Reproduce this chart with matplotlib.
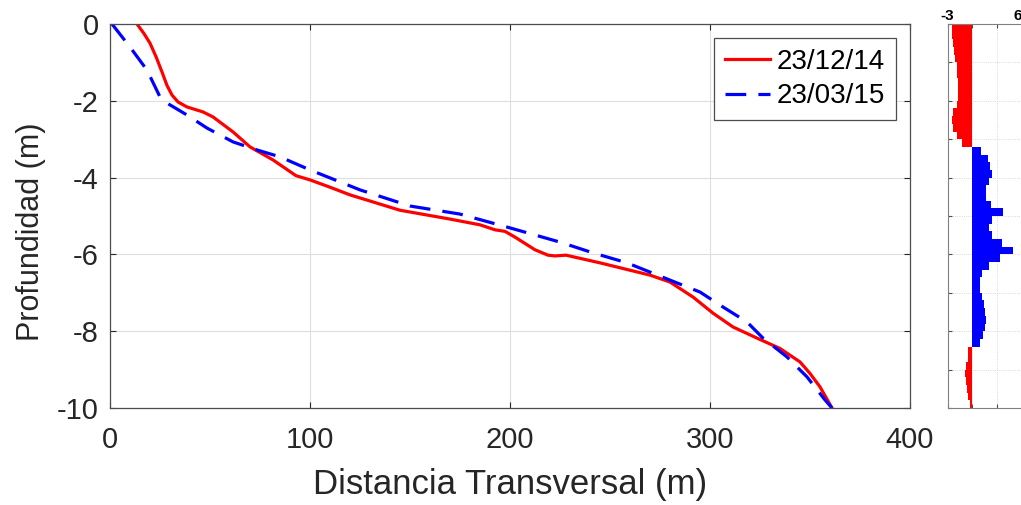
import numpy as np
import matplotlib
matplotlib.use('Agg')
from matplotlib import pyplot as plt

plt.rcParams['font.family'] = ['Liberation Sans', 'DejaVu Sans']

# profile 23/12/14
distRed = [13.5, 17, 20, 23, 26, 28.5, 31, 34, 38.5, 46.5, 51.5, 61.5, 70, 81.5, 93, 100, 110, 120,
           145, 170, 185, 192.5, 197.5, 202.5, 212.5, 219, 222.5, 228, 245, 270, 280, 291.5, 301.5,
           311.5, 323.5, 335, 345, 350, 355, 361]
depthRed = [0, -0.25, -0.5, -0.85, -1.25, -1.6, -1.85, -2.03, -2.16, -2.29, -2.42, -2.81, -3.20,
            -3.54, -3.95, -4.06, -4.25, -4.45, -4.85, -5.08, -5.23, -5.36, -5.40, -5.55, -5.88, -6.02,
            -6.04, -6.02, -6.22, -6.54, -6.72, -7.11, -7.53, -7.89, -8.18, -8.45, -8.8, -9.1, -9.45,
            -10]

# profile 23/03/15
distBlue = [1, 10, 18.5, 25, 28.5, 38.5, 48.5, 61.5, 73.5, 85, 100, 125, 150, 175, 200, 225, 241.5,
            258.5, 280, 295, 306.5, 318.5, 326.5, 338.5, 348.5, 357.5, 361]
depthBlue = [0, -0.6, -1.2, -1.9, -2.06, -2.37, -2.71, -3.07, -3.28, -3.46, -3.8, -4.32, -4.74,
             -4.95, -5.31, -5.68, -5.96, -6.22, -6.67, -6.98, -7.37, -7.76, -8.18, -8.67, -9.19,
             -9.79, -10]

# depth change histogram (0.2 m bins from surface)
binDepth = [-0.1 - 0.2 * i for i in range(50)]
change = [-2.5, -2.45, -2.35, -2.2, -2.05, -1.9, -1.8, -1.7, -1.67, -1.7,
          -1.85, -2.3, -2.45, -2.3, -1.9, -1.2, 1.04, 1.9, 2.19, 2.43,
          2.1, 1.71, 1.63, 2.31, 3.77, 2.38, 2.1, 2.38, 3.62, 4.96,
          3.38, 2.02, 1.24, 0.92, 0.9, 1.15, 1.4, 1.6, 1.7, 1.5,
          1.3, 0.95, -0.45, -0.55, -0.75, -0.87, -0.8, -0.65, -0.45, -0.3]

dark = (0.15, 0.15, 0.15)

fig = plt.figure(figsize=(10.21, 5.05), dpi=100)
ax = fig.add_axes([110 / 1021, 97 / 505, 800 / 1021, 384 / 505])

ax.plot(distRed, depthRed, color=(1, 0, 0), lw=2.3, label='23/12/14')
ax.plot(distBlue, depthBlue, color=(0, 0, 1), lw=2.3, dashes=(6.5, 3.8), label='23/03/15')

ax.set_xlim(0, 400)
ax.set_ylim(-10, 0)
ax.set_xticks([0, 100, 200, 300, 400])
ax.set_yticks([0, -2, -4, -6, -8, -10])
ax.set_yticklabels(['0', '-2', '-4', '-6', '-8', '-10'])
ax.grid(True, color=(0.87, 0.87, 0.87), lw=0.8)
ax.tick_params(direction='in', labelsize=21, colors=dark, length=4, top=True, right=True)
ax.tick_params(axis='x', pad=13)
ax.tick_params(axis='y', pad=8)
for s in ax.spines.values():
    s.set_color((0.3, 0.3, 0.3))
    s.set_linewidth(0.9)
ax.set_xlabel('Distancia Transversal (m)', fontsize=25, color=dark, labelpad=10)
ax.set_ylabel('Profundidad (m)', fontsize=22, color=dark)
ax.yaxis.set_label_coords(-0.08, 0.46)

leg = ax.legend(loc='upper right', fontsize=20, handlelength=1.6, handletextpad=0.25,
                borderpad=0.4, labelspacing=0.3, fancybox=False, framealpha=1,
                borderaxespad=0.5)
leg.get_frame().set_edgecolor((0.3, 0.3, 0.3))
leg.get_frame().set_linewidth(0.9)

# side panel with the depth change
ax2 = fig.add_axes([947.5 / 1021, 97 / 505, 74 / 1021, 384 / 505])
colors = [(1, 0, 0) if v < 0 else (0, 0, 1) for v in change]
ax2.barh(binDepth, change, height=0.2, color=colors, linewidth=0)
ax2.set_xlim(-3, 6)
ax2.set_ylim(-10, 0)
ax2.set_xticks([-3, 0, 3, 6])
ax2.set_xticklabels(['-3', '', '', '6'])
ax2.set_yticks(np.arange(-10, 1, 1))
ax2.set_yticklabels([])
ax2.xaxis.tick_top()
ax2.tick_params(direction='in', length=3, labelsize=11, colors=(0.3, 0.3, 0.3),
                bottom=True, top=True, pad=1)
for t in ax2.get_xticklabels():
    t.set_fontweight('bold')
    t.set_color('black')
ax2.get_xticklabels()[-1].set_ha('right')
ax2.grid(True, color=(0.8, 0.8, 0.8), lw=0.6, linestyle=':')
ax2.set_axisbelow(True)
for s in ax2.spines.values():
    s.set_color((0.5, 0.5, 0.5))
    s.set_linewidth(0.8)

fig.savefig('out.png', dpi=100)
